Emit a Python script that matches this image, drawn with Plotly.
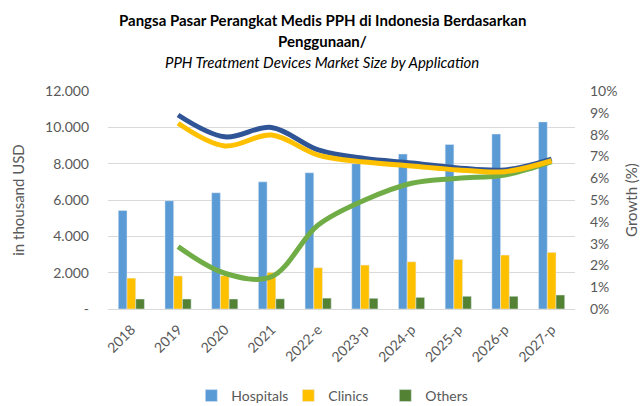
import plotly.graph_objects as go

# Categories and market size (thousand USD)
years = ["2018", "2019", "2020", "2021", "2022-e", "2023-p", "2024-p", "2025-p", "2026-p", "2027-p"]
hospitals = [5420, 5960, 6400, 7000, 7500, 8000, 8530, 9060, 9630, 10300]
clinics = [1700, 1820, 1830, 2010, 2270, 2420, 2600, 2730, 2970, 3120]
others = [550, 550, 550, 560, 600, 590, 640, 700, 700, 770]

# Year-on-year growth (fraction), from 2019 onward
growth_years = years[1:]
growth_hospitals = [0.089, 0.079, 0.0833, 0.073, 0.069, 0.067, 0.0647, 0.0638, 0.0688]
growth_clinics = [0.0852, 0.0748, 0.0798, 0.0706, 0.0674, 0.0656, 0.0638, 0.063, 0.068]
growth_others = [0.0286, 0.0164, 0.0148, 0.0385, 0.050, 0.0577, 0.060, 0.0615, 0.0676]

left_ticks = [0, 2000, 4000, 6000, 8000, 10000, 12000]
left_tick_text = ["-", "2.000", "4.000", "6.000", "8.000", "10.000", "12.000"]

title_lines = [
    "<b>Pangsa Pasar Perangkat Medis PPH di Indonesia Berdasarkan</b>",
    "<b>Penggunaan/</b>",
    "<i>PPH Treatment Devices Market Size by Application</i>",
]

FONT = "Lato"
GREY = "#595959"
W, H = 644, 406
L, R, T, B = 108, 69, 91, 97

fig = go.Figure()

fig.add_trace(go.Bar(x=years, y=hospitals, name="Hospitals", marker_color="#5B9BD5"))
fig.add_trace(go.Bar(x=years, y=clinics, name="Clinics", marker_color="#FFC000"))
fig.add_trace(go.Bar(x=years, y=others, name="Others", marker_color="#548235"))

for vals, color in [(growth_others, "#70AD47"),
                    (growth_hospitals, "#2F5597"),
                    (growth_clinics, "#FFC000")]:
    fig.add_trace(go.Scatter(
        x=growth_years, y=vals, yaxis="y2", mode="lines",
        line=dict(color=color, width=5, shape="spline", smoothing=1.0),
        showlegend=False, hoverinfo="skip",
    ))

# Title lines placed in pixel terms above the plot area
plot_h = H - T - B
for txt, py in zip(title_lines, [20, 41, 62]):
    fig.add_annotation(
        text=txt, xref="paper", yref="paper",
        x=(W / 2 - L) / (W - L - R), y=(H - B - py) / plot_h,
        xanchor="center", yanchor="middle", showarrow=False,
        font=dict(family=FONT, size=15, color="black"),
    )

fig.update_layout(
    width=W, height=H,
    margin=dict(l=L, r=R, t=T, b=B, autoexpand=False),
    paper_bgcolor="white", plot_bgcolor="white",
    font=dict(family=FONT, size=14, color=GREY),
    barmode="group", bargap=0.44, bargroupgap=0,
    xaxis=dict(
        tickangle=-45, showgrid=False, showline=True, linecolor="#D9D9D9",
        linewidth=1, tickfont=dict(size=14, color=GREY), ticklabelstandoff=6,
        automargin=False,
    ),
    yaxis=dict(
        range=[0, 12000], tickvals=left_ticks, ticktext=left_tick_text,
        showgrid=True, gridcolor="#D9D9D9", gridwidth=1, zeroline=False,
        tickfont=dict(size=14, color=GREY), automargin=False,
        title=dict(text="in thousand USD", font=dict(size=15, color=GREY), standoff=16),
        ticklabelstandoff=18,
    ),
    yaxis2=dict(
        overlaying="y", side="right", range=[0, 0.1], dtick=0.01,
        tickformat=".0%", showgrid=False, zeroline=False,
        tickfont=dict(size=14, color=GREY), automargin=False,
        title=dict(text="Growth (%)", font=dict(size=15, color=GREY), standoff=10),
        ticklabelstandoff=14,
    ),
    legend=dict(
        orientation="h", x=0.49, xanchor="center",
        yref="container", y=1 - 396 / H, yanchor="middle",
        font=dict(size=14, color=GREY), traceorder="normal",
        itemwidth=30, entrywidth=52, entrywidthmode="pixels",
    ),
)

fig.write_html("out.html")
